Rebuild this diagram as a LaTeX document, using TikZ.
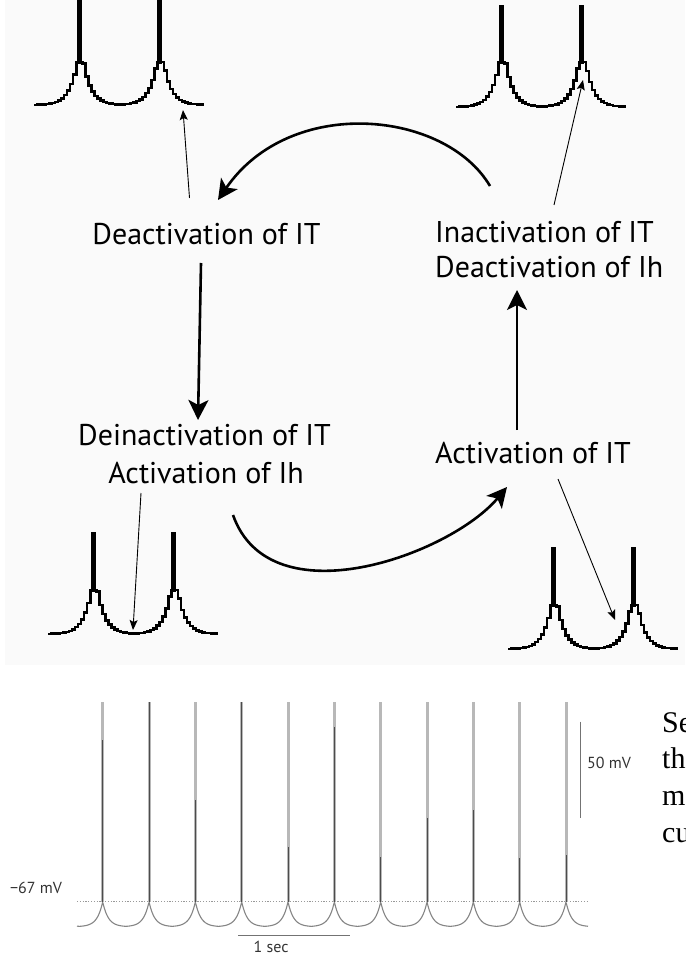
\documentclass[tikz,border=0pt]{standalone}
\usepackage{fontspec}
\setmainfont{PT Sans}
\newfontfamily\serifrm{Liberation Serif}
\usetikzlibrary{arrows.meta,calc}
\newcommand\spikepair[4]{% #1 first spike x, #2 baseline y, #3 spike base y, #4 spike top y
  \draw[wave] plot[const plot, domain=-45:124, samples=57]
    ({#1+\x},{#3+(#2-#3)*(1-exp(-max(min(abs(\x),abs(\x-80))-3,0)/8))});
  \fill ({#1-2.5},#4) rectangle ({#1+2.5},{#3+2});
  \fill ({#1+77.5},#4) rectangle ({#1+82.5},{#3+2});
}
\begin{document}
\begin{tikzpicture}[x=1pt,y=-1pt,
  lbl/.style={inner sep=0pt, font=\fontsize{30}{36}\selectfont},
  bigarrow/.style={line width=2.6pt, -{Stealth[length=20pt,width=20pt,inset=5pt]}},
  thinarrow/.style={line width=0.9pt, -{Stealth[length=10pt,width=8pt,inset=2pt]}},
  wave/.style={line width=2.5pt, line join=miter},
  small/.style={inner sep=0pt, text=black!80, font=\fontsize{16}{18}\selectfont},
  serif/.style={inner sep=0pt, anchor=base west, font=\serifrm\fontsize{30}{36}\selectfont},
  trace/.style={black!48, line width=1.1pt},
  scalebar/.style={black!55, line width=0.8pt}]
\clip (0,0) rectangle (685,957);
\fill[black!2] (5,0) rectangle (685,665);

% ---- waveform insets ----
\spikepair{79}{105}{62}{-2}
\spikepair{501}{107}{62}{5}
\spikepair{93}{634}{590}{532}
\spikepair{553}{649}{605}{547}
\coordinate (tipTL) at (183,110);
\coordinate (tipTR) at (583,80);
\coordinate (tipBL) at (133,630);
\coordinate (tipBR) at (615,620);

% ---- labels ----
\node[lbl, anchor=base] (deact) at (206.5,245) {Deactivation of IT};
\node[lbl, anchor=base west] (inact1) at (435,243) {Inactivation of IT};
\node[lbl, anchor=base west] (inact2) at (435,278) {Deactivation of Ih};
\node[lbl, anchor=base] (deinact1) at (204.5,445) {Deinactivation of IT};
\node[lbl, anchor=base] (deinact2) at (206,483) {Activation of Ih};
\node[lbl, anchor=base west] (act) at (435,463) {Activation of IT};

% ---- cycle arrows ----
\draw[bigarrow] ($(inact1.base west)+(55,-57)$) .. controls (445,110) and (290,95) .. ($(deact.base)+(11.5,-45)$);
\draw[bigarrow] ($(deact.base)+(-5.5,18)$) -- ($(deinact1.base)+(-6.5,-25)$);
\draw[bigarrow] ($(deinact2.base)+(27,32)$) .. controls (270,620) and (450,555) .. ($(act.base west)+(72,24)$);
\draw[bigarrow] ($(act.base west)+(82,-33)$) -- ($(inact2.base west)+(82,12)$);

% ---- thin pointer arrows ----
\draw[thinarrow] ($(deact.base)+(-17,-47)$) -- (tipTL);
\draw[thinarrow] ($(inact1.base west)+(119,-38)$) -- (tipTR);
\draw[thinarrow] ($(deinact2.base)+(-65,10)$) -- (tipBL);
\draw[thinarrow] ($(act.base west)+(123,16)$) -- (tipBR);

% ---- bottom recording ----
\draw[black!40, line width=0.6pt, dash pattern=on 1.2pt off 1.6pt] (77,901.7) -- (588,901.7);
\draw[trace] plot[domain=77:588, samples=900]
  (\x,{926.7-25*exp(-min(mod(\x-102.7+138.99,46.33),46.33-mod(\x-102.7+138.99,46.33))/5.5)});
\foreach \k/\dk in {0/740,1/702,2/800,3/702,4/847,5/727,6/857,7/818,8/810,9/858,10/855}{
  \draw[black!28, line width=3pt] ({102.7+46.33*\k},901.7) -- ({102.7+46.33*\k},701.7);
  \draw[black!70, line width=0.9pt] ({102.7+46.33*\k},901.7) -- ({102.7+46.33*\k},\dk);
}
\draw[scalebar] (238,935) -- (350,935);
\node[small, anchor=base] (onesec) at (271,952) {1 sec};
\draw[scalebar] (580,721.7) -- (580,818);
\node[small] (fiftymv) at (609,763) {50 mV};
\node[small] (restmv) at (36,888) {−67 mV};

% ---- cropped body text (cut by the page edge, as in the reference) ----
\node[serif] (t1) at (662,732) {Se};
\node[serif] (t2) at (662,768) {th};
\node[serif] (t3) at (662,805) {m};
\node[serif] (t4) at (662,842) {cu};
\end{tikzpicture}
\end{document}
